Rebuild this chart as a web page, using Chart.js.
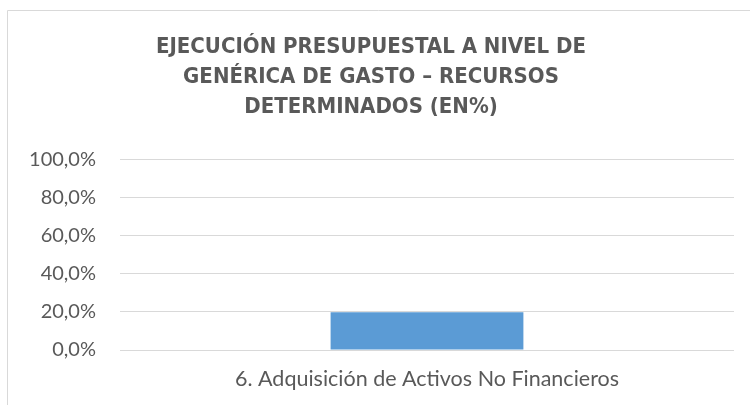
<!DOCTYPE html>
<html>
<head>
<meta charset="utf-8">
<script src="https://cdn.jsdelivr.net/npm/chart.js@4"></script>
<style>
  html, body { margin: 0; padding: 0; background: #fff; }
  #wrap { width: 750px; height: 405px; position: relative; }
</style>
</head>
<body>
<div id="wrap"><canvas id="chart" width="750" height="405"></canvas></div>
<script>
// chart data
const categories = ['6. Adquisición de Activos No Financieros'];
const executionPct = [19.9];
const titleLines = [
  'EJECUCIÓN PRESUPUESTAL A NIVEL DE',
  'GENÉRICA DE GASTO – RECURSOS',
  'DETERMINADOS (EN%)'
];
const yMin = 0, yMax = 100, yStep = 20;

const textColor = '#595959';
const gridColor = '#d9d9d9';

// light frame around the chart (left and top edges visible)
const framePlugin = {
  id: 'frame',
  beforeDraw(chart) {
    const ctx = chart.ctx;
    ctx.save();
    ctx.strokeStyle = gridColor;
    ctx.lineWidth = 1;
    ctx.beginPath();
    ctx.moveTo(7.5, chart.height);
    ctx.lineTo(7.5, 10.5);
    ctx.lineTo(chart.width, 10.5);
    ctx.stroke();
    ctx.restore();
  }
};

new Chart(document.getElementById('chart'), {
  type: 'bar',
  data: {
    labels: categories,
    datasets: [{
      data: executionPct,
      backgroundColor: '#5B9BD5',
      categoryPercentage: 1,
      barPercentage: 0.314
    }]
  },
  options: {
    responsive: false,
    animation: false,
    layout: { padding: { left: 8, right: 16, top: 0, bottom: 15 } },
    plugins: {
      legend: { display: false },
      tooltip: { enabled: false },
      title: {
        display: true,
        text: titleLines,
        color: textColor,
        font: { family: '"Liberation Sans Narrow", "DejaVu Sans Condensed", sans-serif', size: 22, weight: 'bold', lineHeight: 1.36 },
        padding: { top: 32, bottom: 38 }
      }
    },
    scales: {
      x: {
        afterFit(scale) { scale.height = 40; },
        grid: { display: false, drawTicks: false },
        border: { display: false },
        ticks: {
          color: textColor,
          padding: 16,
          font: { family: 'Lato, sans-serif', size: 21.5 }
        }
      },
      y: {
        min: yMin,
        max: yMax,
        afterFit(scale) { scale.width = 112; },
        border: { display: false },
        grid: { color: gridColor, lineWidth: 1, drawTicks: false },
        ticks: {
          stepSize: yStep,
          color: textColor,
          padding: 24,
          font: { family: 'Lato, sans-serif', size: 20 },
          callback: v => v.toFixed(1).replace('.', ',') + '%'
        }
      }
    }
  },
  plugins: [framePlugin]
});
</script>
</body>
</html>
